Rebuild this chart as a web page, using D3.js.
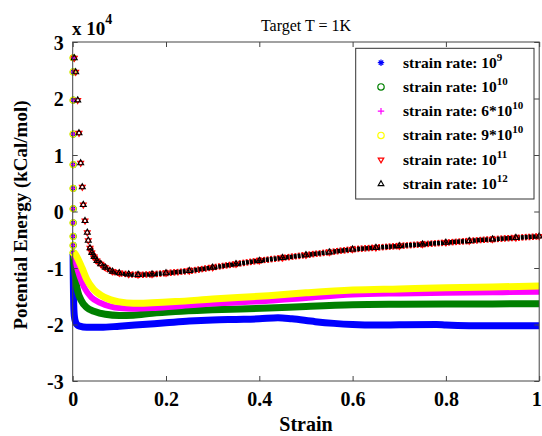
<!DOCTYPE html>
<html><head><meta charset="utf-8">
<script src="https://cdn.jsdelivr.net/npm/d3@7"></script>
<style>body{margin:0;background:#fff}svg{display:block}</style>
</head><body>
<svg id="c" width="542" height="436"></svg>
<script>
// ---- data (strain, potential energy in units of 1e4 kCal/mol) ----
const xTicks = [0, 0.2, 0.4, 0.6, 0.8, 1];
const xTickLabels = ["0", "0.2", "0.4", "0.6", "0.8", "1"];
const yTicks = [-3, -2, -1, 0, 1, 2, 3];
const yTickLabels = ["-3", "-2", "-1", "0", "1", "2", "3"];

// early discrete points shared by the four slower rates
const earlyE = [2.72, 2.47, 1.97, 1.37, 0.83, 0.41, 0.05, -0.2, -0.44, -0.6, -0.73];

const blueEarlyS = [0.0011, 0.0011, 0.0011, 0.0011, 0.0011, 0.0011, 0.0011, 0.0011, 0.0011, 0.0011, 0.0011];
const blueS = [0.0008, 0.001, 0.0013, 0.0017, 0.0022, 0.003, 0.004, 0.006, 0.009, 0.015, 0.03, 0.06, 0.1, 0.15, 0.2, 0.25, 0.3, 0.35, 0.4, 0.44, 0.47, 0.52, 0.56, 0.6, 0.65, 0.7, 0.78, 0.8, 0.85, 0.9, 1.0];
const blueE = [-0.75, -0.95, -1.2, -1.45, -1.65, -1.8, -1.88, -1.95, -2.0, -2.03, -2.05, -2.05, -2.03, -2.0, -1.97, -1.94, -1.92, -1.91, -1.9, -1.88, -1.9, -1.95, -1.98, -2.0, -2.01, -2.005, -2.0, -2.01, -2.02, -2.02, -2.02];

const greenEarlyS = [0.0012, 0.0012, 0.0012, 0.0012, 0.0012, 0.0012, 0.0012, 0.0012, 0.0012, 0.0012, 0.0012];
const greenS = [0.0015, 0.002, 0.004, 0.007, 0.011, 0.018, 0.03, 0.047, 0.07, 0.1, 0.13, 0.17, 0.22, 0.3, 0.42, 0.5, 0.6, 0.7, 0.8, 0.9, 1.0];
const greenE = [-0.75, -0.85, -1.02, -1.25, -1.42, -1.57, -1.7, -1.77, -1.82, -1.84, -1.835, -1.8, -1.77, -1.74, -1.71, -1.68, -1.65, -1.64, -1.635, -1.635, -1.634];

const magentaEarlyS = [0.0013, 0.0013, 0.0013, 0.0013, 0.0013, 0.0013, 0.0013, 0.0013, 0.0013, 0.0013, 0.0013];
const magentaS = [0.002, 0.005, 0.008, 0.015, 0.025, 0.04, 0.06, 0.08, 0.1, 0.13, 0.17, 0.22, 0.3, 0.42, 0.5, 0.6, 0.7, 0.8, 0.9, 1.0];
const magentaE = [-0.75, -0.85, -0.95, -1.15, -1.35, -1.52, -1.62, -1.68, -1.71, -1.72, -1.71, -1.68, -1.63, -1.58, -1.53, -1.47, -1.45, -1.44, -1.43, -1.42];

const yellowEarlyS = [0.0006, 0.0006, 0.0006, 0.0006, 0.0006, 0.0006, 0.0006, 0.0006, 0.0006, 0.0006, 0.0006];
const yellowS = [0.002, 0.006, 0.01, 0.02, 0.03, 0.045, 0.06, 0.08, 0.1, 0.13, 0.17, 0.22, 0.3, 0.42, 0.5, 0.6, 0.7, 0.8, 0.9, 1.0];
const yellowE = [-0.72, -0.76, -0.82, -1.0, -1.2, -1.38, -1.48, -1.56, -1.6, -1.625, -1.615, -1.595, -1.55, -1.49, -1.44, -1.39, -1.37, -1.35, -1.335, -1.32];

const fastS = [0.0034, 0.0064, 0.0107, 0.0135, 0.0171, 0.0206, 0.0227, 0.0264, 0.0313, 0.0334, 0.0371, 0.041, 0.046, 0.052, 0.06, 0.07, 0.085, 0.1, 0.12, 0.14, 0.17, 0.2, 0.25, 0.3, 0.35, 0.4, 0.45, 0.5, 0.55, 0.6, 0.65, 0.7, 0.75, 0.8, 0.85, 0.9, 0.95, 1.0];
const redE = [2.715, 2.467, 1.97, 1.388, 0.857, 0.432, 0.119, -0.165, -0.372, -0.513, -0.648, -0.73, -0.8, -0.87, -0.93, -0.99, -1.06, -1.09, -1.11, -1.12, -1.11, -1.09, -1.05, -0.99, -0.93, -0.87, -0.82, -0.77, -0.72, -0.67, -0.64, -0.61, -0.58, -0.55, -0.52, -0.49, -0.465, -0.44];
const blackE = [2.715, 2.467, 1.97, 1.388, 0.857, 0.432, 0.119, -0.165, -0.372, -0.513, -0.648, -0.73, -0.8, -0.87, -0.93, -0.99, -1.06, -1.09, -1.11, -1.12, -1.11, -1.09, -1.05, -0.99, -0.93, -0.87, -0.82, -0.77, -0.72, -0.67, -0.64, -0.61, -0.58, -0.55, -0.52, -0.49, -0.465, -0.44];
const fastBandStart = 11;

const legendBase = ["10", "10", "6*10", "9*10", "10", "10"];
const legendExp = ["9", "10", "10", "10", "11", "12"];

// ---- drawing ----
const svg = d3.select("#c");
const x = d3.scaleLinear().domain([0, 1]).range([72.7, 539.2]);
const y = d3.scaleLinear().domain([-3, 3]).range([381, 42]);
const serif = "'Liberation Serif','Times New Roman',serif";

function markerPath(kind, r) {
  switch (kind) {
    case "star": {
      const d = r * 0.7;
      return `M${-r},0L${r},0M0,${-r}L0,${r}M${-d},${-d}L${d},${d}M${-d},${d}L${d},${-d}`;
    }
    case "plus": return `M${-r},0L${r},0M0,${-r}L0,${r}`;
    case "circle": return d3.symbol(d3.symbolCircle, Math.PI * r * r)();
    case "tri-up": return `M0,${-r}L${r * 0.87},${r * 0.5}L${-r * 0.87},${r * 0.5}Z`;
    case "tri-down": return `M0,${r}L${r * 0.87},${-r * 0.5}L${-r * 0.87},${-r * 0.5}Z`;
  }
}

const series = [
  { color: "#0000ff", kind: "star", earlyS: blueEarlyS, bandS: blueS, bandE: blueE, w: 7 },
  { color: "#008000", kind: "circle", earlyS: greenEarlyS, bandS: greenS, bandE: greenE, w: 7 },
  { color: "#ff00ff", kind: "plus", earlyS: magentaEarlyS, bandS: magentaS, bandE: magentaE, w: 6 },
  { color: "#ffff00", kind: "circle", earlyS: yellowEarlyS, bandS: yellowS, bandE: yellowE, w: 7 },
];

const line = d3.line().x(d => x(d[0])).y(d => y(d[1])).curve(d3.curveMonotoneX);

const plot = svg.append("g");
series.forEach(s => {
  const pts = s.bandS.map((v, i) => [v, s.bandE[i]]);
  plot.append("path").attr("d", line(pts)).attr("fill", "none")
    .attr("stroke", s.color).attr("stroke-width", s.w).attr("stroke-linejoin", "round");
  plot.selectAll(null).data(s.earlyS.map((v, i) => [v, earlyE[i]])).enter().append("path")
    .attr("d", markerPath(s.kind, 3)).attr("transform", d => `translate(${x(d[0])},${y(d[1])})`)
    .attr("fill", "none").attr("stroke", s.color).attr("stroke-width", 1.2);
});

// fast rates: red (10^11) and black (10^12)
const redPts = fastS.map((v, i) => [v, redE[i]]);
const blackPts = fastS.map((v, i) => [v, blackE[i]]);
plot.append("path").attr("d", line(redPts.slice(fastBandStart - 1))).attr("fill", "none")
  .attr("stroke", "#ff0000").attr("stroke-width", 6.5).attr("stroke-dasharray", "2,1.5");
plot.append("path").attr("d", line(blackPts.slice(fastBandStart - 1))).attr("fill", "none")
  .attr("stroke", "#000").attr("stroke-width", 4.5).attr("stroke-dasharray", "3,1");
plot.selectAll(null).data(redPts).enter().append("path")
  .attr("d", markerPath("tri-down", 3.4)).attr("transform", d => `translate(${x(d[0])},${y(d[1])})`)
  .attr("fill", "none").attr("stroke", "#ff0000").attr("stroke-width", 1.1);
plot.selectAll(null).data(blackPts).enter().append("path")
  .attr("d", markerPath("tri-up", 3.4)).attr("transform", d => `translate(${x(d[0])},${y(d[1])})`)
  .attr("fill", "none").attr("stroke", "#000").attr("stroke-width", 1.1);

// axes frame
const axCol = "#444";
const frame = svg.append("g");
frame.append("rect").attr("x", x(0)).attr("y", y(3)).attr("width", x(1) - x(0)).attr("height", y(-3) - y(3))
  .attr("fill", "none").attr("stroke", axCol).attr("stroke-width", 1);

const xb = d3.axisBottom(x).tickValues(xTicks).tickSize(-5).tickFormat((d, i) => xTickLabels[i]);
const gx = svg.append("g").attr("transform", `translate(0,${y(-3)})`).call(xb);
const xt = d3.axisTop(x).tickValues(xTicks).tickSize(-5).tickFormat("");
const gxt = svg.append("g").attr("transform", `translate(0,${y(3)})`).call(xt);
const yl = d3.axisLeft(y).tickValues(yTicks).tickSize(-5).tickFormat((d, i) => yTickLabels[i]);
const gy = svg.append("g").attr("transform", `translate(${x(0)},0)`).call(yl);
const yr = d3.axisRight(y).tickValues(yTicks).tickSize(-5).tickFormat("");
const gyr = svg.append("g").attr("transform", `translate(${x(1)},0)`).call(yr);
[gx, gxt, gy, gyr].forEach(g => {
  g.select(".domain").remove();
  g.selectAll(".tick line").attr("stroke", axCol);
  g.selectAll("text").attr("font-family", serif).attr("font-weight", "bold").attr("font-size", 20).attr("fill", "#000");
});
gx.selectAll("text").attr("dy", null).attr("y", 25);
// keep the last label inside the page edge
gx.selectAll(".tick").filter(d => d === 1).select("text").attr("text-anchor", "end").attr("x", 2);
gy.selectAll("text").attr("x", -9).attr("dy", "0.35em");

// exponent label
const ex = svg.append("text").attr("x", 72).attr("y", 35).attr("font-family", serif)
  .attr("font-weight", "bold").attr("font-size", 19);
ex.append("tspan").text("x 10");
ex.append("tspan").attr("font-size", 14).attr("dy", -11).text("4");

// title
svg.append("text").attr("x", 306).attr("y", 31).attr("text-anchor", "middle")
  .attr("font-family", serif).attr("font-size", 16).text("Target T = 1K");

// axis labels
svg.append("text").attr("x", 306).attr("y", 431).attr("text-anchor", "middle")
  .attr("font-family", serif).attr("font-weight", "bold").attr("font-size", 20).text("Strain");
svg.append("text").attr("transform", "translate(27,215) rotate(-90)").attr("text-anchor", "middle")
  .attr("font-family", serif).attr("font-weight", "bold").attr("font-size", 19).text("Potential Energy (kCal/mol)");

// legend
const lg = svg.append("g");
lg.append("rect").attr("x", 355.7).attr("y", 48.3).attr("width", 178.3).attr("height", 150.7)
  .attr("fill", "#fff").attr("stroke", "#333").attr("stroke-width", 1);
const legSpec = [
  { color: "#0000ff", kind: "star" }, { color: "#008000", kind: "circle" },
  { color: "#ff00ff", kind: "plus" }, { color: "#ffff00", kind: "circle" },
  { color: "#ff0000", kind: "tri-down" }, { color: "#000", kind: "tri-up" },
];
legSpec.forEach((s, i) => {
  const cy = 62.7 + i * 24.25;
  lg.append("path").attr("d", markerPath(s.kind, 3.2)).attr("transform", `translate(381,${cy})`)
    .attr("fill", "none").attr("stroke", s.color).attr("stroke-width", 1.2);
  const t = lg.append("text").attr("x", 403).attr("y", cy + 5).attr("font-family", serif)
    .attr("font-weight", "bold").attr("font-size", 15.5);
  t.append("tspan").text("strain rate: " + legendBase[i]);
  t.append("tspan").attr("font-size", 11).attr("dy", -7).text(legendExp[i]);
});
</script>
</body></html>
